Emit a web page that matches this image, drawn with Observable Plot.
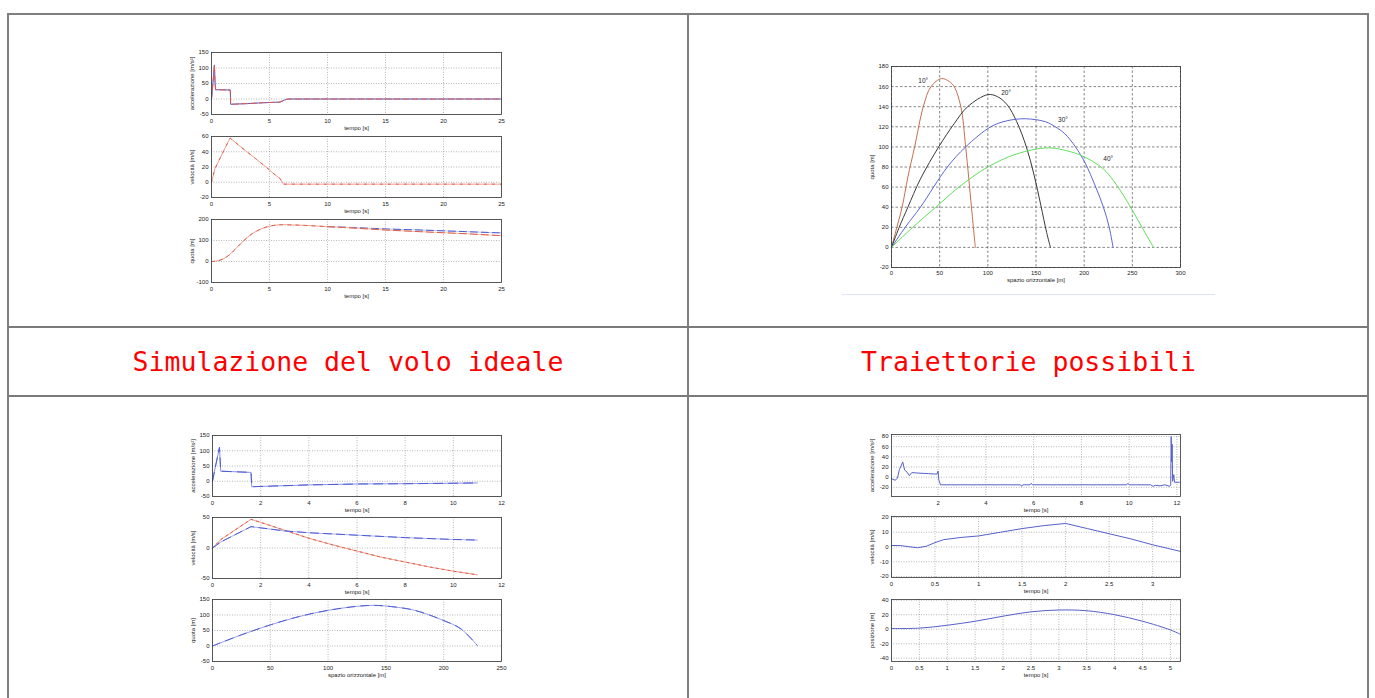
<!DOCTYPE html>
<html>
<head>
<meta charset="utf-8">
<script src="https://cdn.jsdelivr.net/npm/d3@7"></script>
<script src="https://cdn.jsdelivr.net/npm/@observablehq/plot@0.6"></script>
<style>
  html, body { margin: 0; padding: 0; background: #fff; }
  body { width: 1375px; height: 698px; overflow: hidden; position: relative; font-family: "Liberation Sans", Arial, sans-serif; }
  .abs { position: absolute; }
  .cap { position: absolute; display: flex; align-items: center; justify-content: center;
         font-family: "DejaVu Sans Mono", monospace; font-size: 26.5px; color: #ff0000; white-space: pre; }
</style>
</head>
<body>
<div class="abs" style="left:7px;top:13px;width:1362px;height:800px;border:2px solid #7f7f7f;box-sizing:border-box;"></div>
<div class="abs" style="left:687px;top:14px;width:2px;height:800px;background:#808080;"></div>
<div class="abs" style="left:8px;top:326px;width:1360px;height:2px;background:#7a7a7a;"></div>
<div class="abs" style="left:8px;top:395px;width:1360px;height:2px;background:#7a7a7a;"></div>
<div class="abs" style="left:842px;top:294px;width:373px;height:1px;background:#dde5f8;"></div>
<div class="cap" style="left:9px;top:328px;width:678px;height:67px;">Simulazione del volo ideale</div>
<div class="cap" style="left:689px;top:328px;width:679px;height:67px;">Traiettorie possibili</div>
<div id="charts"></div>
<script>
// ---------- Data: top-left (Simulazione del volo ideale) ----------
const tlTimeTicks = [0, 5, 10, 15, 20, 25];
const tlAccTicks = [-50, 0, 50, 100, 150];
const tlVelTicks = [-20, 0, 20, 40, 60];
const tlPosTicks = [-100, 0, 100, 200];

const tlAccT = [0, 0.1, 0.25, 0.3, 0.35, 1.62, 1.65, 3, 4.5, 5.9, 6.3, 6.6, 10, 15, 20, 25];
const tlAccV = [0, 40, 110, 60, 30, 29, -17, -15, -12, -10, -3, 0, 0, 0, 0, 0];

const tlVelT = [0, 0.3, 1.6, 2.8, 3.8, 4.7, 5.3, 5.9, 6.2, 10, 15, 20, 25];
const tlVelV = [0, 18, 58, 43, 31, 20, 12, 5, -2.5, -2.5, -2.5, -2.5, -2.5];

const tlPosT = [0, 0.5, 1, 1.5, 2, 2.5, 3, 3.5, 4, 4.5, 5, 5.5, 6, 7, 8, 10];
const tlPosV = [0, 3, 12, 30, 56, 84, 110, 132, 148, 160, 168, 173, 175, 174, 172, 166];
const tlPosTailT = [10, 12, 15, 18, 20, 22, 25];
const tlPosTailBlue = [166, 162, 155, 150, 146, 142, 136];
const tlPosTailRed = [166, 160, 150, 142, 137, 132, 123];

// ---------- Data: top-right (Traiettorie possibili) ----------
const trXTicks = [0, 50, 100, 150, 200, 250, 300];
const trYTicks = [-20, 0, 20, 40, 60, 80, 100, 120, 140, 160, 180];
const traj10X = [0, 5, 11, 17, 24, 33, 41, 52, 60, 65, 72, 77, 83, 87];
const traj10Y = [0, 18, 40, 70, 100, 140, 160, 168, 165, 160, 140, 100, 40, 0];
const traj20X = [0, 8, 17, 30, 49, 65, 79, 100, 110, 120, 130, 140, 148, 155, 161, 165];
const traj20Y = [0, 20, 40, 68, 100, 123, 140, 152, 150, 142, 125, 100, 72, 42, 15, 0];
const traj30X = [0, 15, 30, 58, 77, 103, 120, 139, 160, 170, 180, 191, 201, 212, 220, 226, 230];
const traj30Y = [0, 21, 40, 80, 100, 120, 126, 128, 125, 120, 113, 100, 84, 60, 40, 20, 0];
const traj40X = [0, 22, 46, 70, 100, 130, 163, 190, 200, 210, 220, 230, 240, 250, 260, 272];
const traj40Y = [0, 20, 40, 60, 80, 93, 99, 94, 90, 85, 78, 67, 53, 37, 20, 0];
const angleLabels = ["10°", "20°", "30°", "40°"];
const angleLabelX = [33, 119, 178, 225];
const angleLabelY = [166, 154, 127, 88];

// ---------- Data: bottom-left ----------
const blTimeTicks = [0, 2, 4, 6, 8, 10, 12];
const blAccTicks = [-50, 0, 50, 100, 150];
const blVelTicks = [-50, 0, 50];
const blPosTicks = [-50, 0, 50, 100, 150];
const blSpaceTicks = [0, 50, 100, 150, 200, 250];

const blAccT = [0, 0.1, 0.29, 0.34, 1.6, 1.63, 2, 4, 6, 8, 10, 11];
const blAccV = [0, 40, 111, 33, 29, -18, -17, -12, -9, -8, -6.5, -5.5];
const blVelRedT = [0, 0.35, 1.6, 2, 3, 4, 5, 6, 7, 8, 9, 10, 11];
const blVelRedV = [0, 14, 47, 42, 29, 16, 5, -5, -15, -23, -31, -38, -44];
const blVelBlueT = [0, 0.35, 1.6, 2, 3, 4, 6, 8, 10, 11];
const blVelBlueV = [0, 10, 35, 33, 28, 25, 21, 17, 14, 13];
const blPosX = [0, 25, 50, 75, 100, 125, 140, 155, 175, 200, 215, 229];
const blPosY = [0, 36, 68, 95, 115, 128, 131, 127, 115, 82, 55, 2];

// ---------- Data: bottom-right ----------
const brAccTimeTicks = [2, 4, 6, 8, 10, 12];
const brAccTicks = [-20, 0, 20, 40, 60, 80];
const brVelTimeTicks = [0, 0.5, 1, 1.5, 2, 2.5, 3];
const brVelTicks = [-20, -10, 0, 10, 20];
const brPosTimeTicks = [0, 0.5, 1, 1.5, 2, 2.5, 3, 3.5, 4, 4.5, 5];
const brPosTicks = [-40, -20, 0, 20, 40];

const brAccT = [0.05, 0.2, 0.3, 0.38, 0.47, 0.52, 0.6, 0.7, 0.8, 0.9, 1.2, 1.6, 1.95, 2.0, 2.03, 2.1, 2.2, 5.45, 5.5, 5.55, 5.85, 5.9, 5.95, 9.9, 9.95, 10, 10.9, 11.0, 11.1, 11.3, 11.5, 11.7, 11.74, 11.76, 11.78, 11.8, 11.82, 11.87, 11.9, 12.1];
const brAccV = [-3, -6, -2, 15, 24, 30, 14, 10, 3, 9, 8, 7, 6, 12, -5, -15, -15, -15, -18, -15, -15, -12, -15, -15, -12, -15, -15, -18, -16, -17, -15, -18, -15, 80, 30, 65, -8, 5, -10, -10];
const brVelT = [0, 0.1, 0.2, 0.3, 0.4, 0.5, 0.6, 0.8, 1.0, 1.25, 1.5, 1.75, 2.0, 2.25, 2.5, 2.75, 3.0, 3.32];
const brVelV = [1, 1, 0.2, -0.5, 0.5, 3, 5, 6.5, 7.5, 10, 12.5, 14.5, 16, 12.5, 9, 5.5, 1.5, -3];
const brPosT = [0, 0.5, 1, 1.5, 2, 2.5, 3, 3.5, 4, 4.5, 5, 5.18];
const brPosV = [1, 1.5, 5.5, 11, 18, 24, 26.5, 25.5, 20, 11, -1, -7];

// ---------- Drawing ----------
const RED = "#e05a4e", BLUE = "#4a5bd6", PINK = "#eda08e";
const host = document.getElementById("charts");

function subplot(cfg) {
  const {left, right, top, bottom} = cfg.box;
  const mL = 34, mR = 12, mT = 6, mB = 26;
  const gridStroke = cfg.gridStroke || "#9a9a9a";
  const gridDash = cfg.gridDash || "1,1.5";
  const marks = [
    Plot.ruleX(cfg.xTicks, {stroke: gridStroke, strokeWidth: 0.7, strokeDasharray: gridDash}),
    Plot.ruleY(cfg.yTicks, {stroke: gridStroke, strokeWidth: 0.7, strokeDasharray: gridDash}),
    ...cfg.lines.map(l => Plot.line(l.x, {x: l.x, y: l.y, stroke: l.color, strokeWidth: l.width || 1, strokeDasharray: l.dash, curve: l.curve || "linear"})),
    Plot.frame({stroke: "#333", strokeWidth: 0.8}),
    Plot.text([cfg.xLabel], {frameAnchor: "bottom", dy: cfg.xLabelDy || 15, text: d => d, fontSize: 6, fill: "#222"}),
    Plot.text([cfg.yLabel], {frameAnchor: "left", dx: -19, rotate: -90, textAnchor: "middle", text: d => d, fontSize: 6, fill: "#222"}),
    ...(cfg.extra || [])
  ];
  const svg = Plot.plot({
    width: right - left + mL + mR,
    height: bottom - top + mT + mB,
    marginLeft: mL, marginRight: mR, marginTop: mT, marginBottom: mB,
    style: {fontFamily: "'Liberation Sans', Arial, sans-serif", fontSize: "6px", background: "transparent", color: "#222", overflow: "visible"},
    x: {domain: cfg.xDomain, ticks: cfg.xTicks, tickSize: 0, tickPadding: cfg.xPad || 4, tickFormat: d => String(d), label: null},
    y: {domain: cfg.yDomain, ticks: cfg.yTicks, tickSize: 0, tickPadding: 3, tickFormat: d => String(d), label: null},
    marks
  });
  const wrap = document.createElement("div");
  wrap.className = "abs";
  wrap.style.left = (left - mL) + "px";
  wrap.style.top = (top - mT) + "px";
  wrap.appendChild(svg);
  host.appendChild(wrap);
}

const SMOOTH = "catmull-rom";

// Top-left
subplot({box: {left: 211, right: 501, top: 52, bottom: 114}, xDomain: [0, 25], yDomain: [-50, 150],
  xTicks: tlTimeTicks, yTicks: tlAccTicks, xLabel: "tempo [s]", yLabel: "accelerazione [m/s²]",
  lines: [{x: tlAccT, y: tlAccV, color: BLUE}, {x: tlAccT, y: tlAccV, color: RED, dash: "6,3"}]});
subplot({box: {left: 211, right: 501, top: 136, bottom: 197}, xDomain: [0, 25], yDomain: [-20, 60],
  xTicks: tlTimeTicks, yTicks: tlVelTicks, xLabel: "tempo [s]", yLabel: "velocità [m/s]",
  lines: [{x: tlVelT, y: tlVelV, color: PINK}, {x: tlVelT, y: tlVelV, color: RED, dash: "2,6"}]});
subplot({box: {left: 211, right: 501, top: 219, bottom: 282}, xDomain: [0, 25], yDomain: [-100, 200],
  xTicks: tlTimeTicks, yTicks: tlPosTicks, xLabel: "tempo [s]", yLabel: "quota [m]",
  lines: [{x: tlPosT, y: tlPosV, color: PINK, curve: SMOOTH}, {x: tlPosT, y: tlPosV, color: RED, dash: "3,5", curve: SMOOTH},
          {x: tlPosTailT, y: tlPosTailBlue, color: "#c9c6ec"}, {x: tlPosTailT, y: tlPosTailBlue, color: BLUE, dash: "7,4"},
          {x: tlPosTailT, y: tlPosTailRed, color: "#f3c9a8"}, {x: tlPosTailT, y: tlPosTailRed, color: RED, dash: "7,4"}]});

// Top-right
subplot({box: {left: 891, right: 1180, top: 66, bottom: 267}, xDomain: [0, 300], yDomain: [-20, 180],
  xTicks: trXTicks, yTicks: trYTicks, xLabel: "spazio orizzontale [m]", yLabel: "quota [m]", xLabelDy: 14, xPad: 3,
  gridStroke: "#555", gridDash: "2.5,2",
  lines: [{x: traj10X, y: traj10Y, color: "#c4714f", curve: SMOOTH}, {x: traj20X, y: traj20Y, color: "#3a3a3a", curve: SMOOTH},
          {x: traj30X, y: traj30Y, color: "#5c68d2", curve: SMOOTH}, {x: traj40X, y: traj40Y, color: "#5fe05a", curve: SMOOTH}],
  extra: [Plot.text(angleLabels, {x: angleLabelX, y: angleLabelY, text: angleLabels, fontSize: 6.5, fill: "#222"})]});

// Bottom-left
subplot({box: {left: 212, right: 501, top: 435, bottom: 496}, xDomain: [0, 12], yDomain: [-50, 150],
  xTicks: blTimeTicks, yTicks: blAccTicks, xLabel: "tempo [s]", yLabel: "accelerazione [m/s²]",
  lines: [{x: blAccT, y: blAccV, color: "#8a92e0"}, {x: blAccT, y: blAccV, color: BLUE, dash: "9,6"}]});
subplot({box: {left: 212, right: 501, top: 517, bottom: 578}, xDomain: [0, 12], yDomain: [-50, 50],
  xTicks: blTimeTicks, yTicks: blVelTicks, xLabel: "tempo [s]", yLabel: "velocità [m/s]",
  lines: [{x: blVelRedT, y: blVelRedV, color: PINK}, {x: blVelRedT, y: blVelRedV, color: RED, dash: "2,4"},
          {x: blVelBlueT, y: blVelBlueV, color: "#a9aee8"}, {x: blVelBlueT, y: blVelBlueV, color: BLUE, dash: "8,5"}]});
subplot({box: {left: 212, right: 501, top: 599, bottom: 661}, xDomain: [0, 250], yDomain: [-50, 150],
  xTicks: blSpaceTicks, yTicks: blPosTicks, xLabel: "spazio orizzontale [m]", yLabel: "quota [m]",
  lines: [{x: blPosX, y: blPosY, color: "#9aa0e4", curve: SMOOTH}, {x: blPosX, y: blPosY, color: BLUE, dash: "8,6", curve: SMOOTH}]});

// Bottom-right
subplot({box: {left: 891, right: 1180, top: 434, bottom: 496}, xDomain: [0.05, 12.15], yDomain: [-38, 84],
  xTicks: brAccTimeTicks, yTicks: brAccTicks, xLabel: "tempo [s]", yLabel: "accelerazione [m/s²]",
  lines: [{x: brAccT, y: brAccV, color: "#5561c8"}]});
subplot({box: {left: 891, right: 1180, top: 516, bottom: 577}, xDomain: [0, 3.32], yDomain: [-20.7, 20.7],
  xTicks: brVelTimeTicks, yTicks: brVelTicks, xLabel: "tempo [s]", yLabel: "velocità [m/s]",
  lines: [{x: brVelT, y: brVelV, color: "#5561c8"}]});
subplot({box: {left: 891, right: 1180, top: 599, bottom: 661}, xDomain: [0, 5.18], yDomain: [-44.5, 41],
  xTicks: brPosTimeTicks, yTicks: brPosTicks, xLabel: "tempo [s]", yLabel: "posizione [m]",
  lines: [{x: brPosT, y: brPosV, color: "#5561c8", curve: SMOOTH}]});
</script>
</body>
</html>
